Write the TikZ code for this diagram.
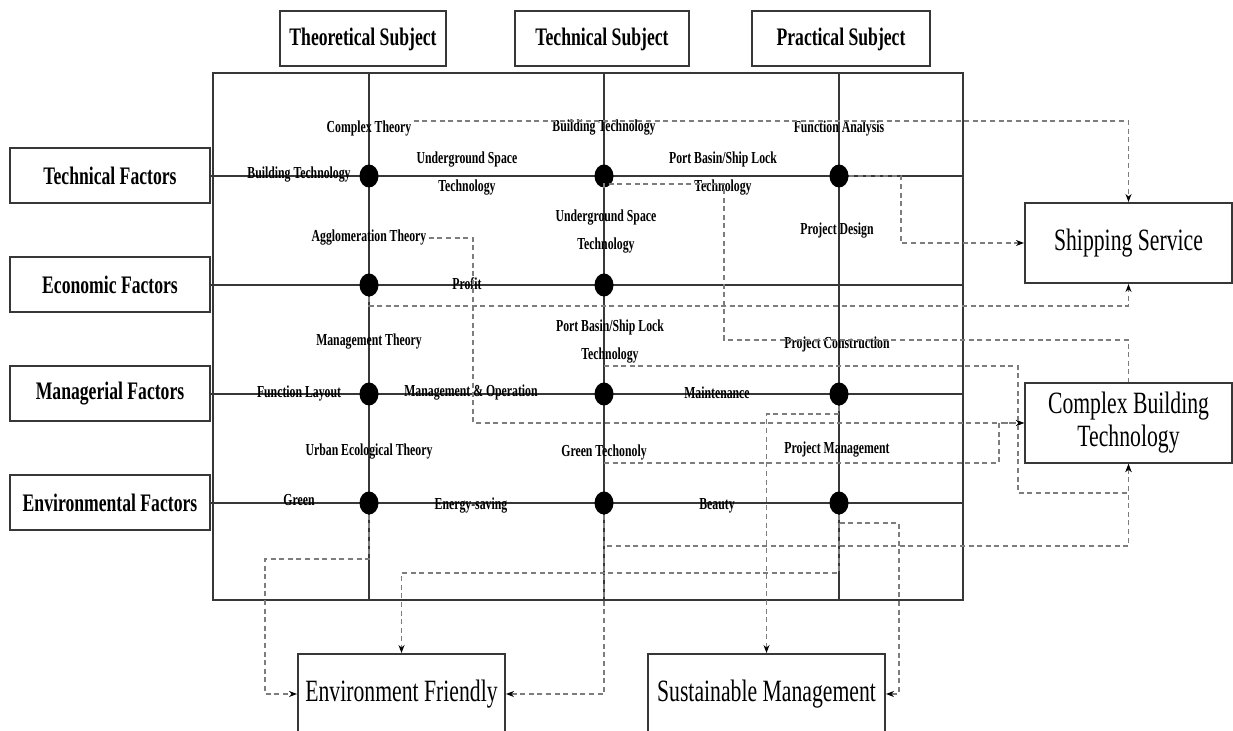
\documentclass[tikz,border=0pt]{standalone}
\usepackage{fontspec}
\setmainfont[FakeStretch=0.7]{Liberation Serif}
\usetikzlibrary{calc, arrows.meta, shapes}
\tikzset{>={Stealth[length=4pt,width=3pt,color=black]}}
\definecolor{mygray1}{RGB}{55, 55, 55}
\definecolor{mygray2}{RGB}{125, 125, 125}

\begin{document}
\begin{tikzpicture}[
    x = 0.5pt, y = -0.5pt,
    d0/.style = {line width = 1pt, mygray1},
    d1/.style = {line width = 0.7pt, mygray2, dash pattern = on 2.5pt off 1.8pt},
    d2/.style = {d1, ->},
    box/.style = {draw = mygray1, line width = 1pt, minimum height = 27.5pt, inner sep = 0pt, font = \bfseries\fontsize{12.6}{14}\selectfont},
    res/.style = {draw = mygray1, line width = 1pt, minimum height = 40pt, inner sep = 0pt, align = center, font = \fontsize{15.5}{16.5}\selectfont},
    lab/.style = {inner sep = 1pt, align = center, font = \bfseries\fontsize{8.4}{14}\selectfont},
    dot/.style = {ellipse, fill = black, minimum width = 9.5pt, minimum height = 11.5pt, inner sep = 0pt}
]
\useasboundingbox (0,0) rectangle (1233,731);
\clip (0,0) rectangle (1233,731);

% subjects and factors
\node[box, minimum width = 83pt] (thS) at (363,39) {Theoretical Subject};
\node[box, minimum width = 87pt] (tcS) at (602,39) {Technical Subject};
\node[box, minimum width = 89pt] (prS) at (841,39) {Practical Subject};

\node[box, minimum width = 100pt] (tecF) at (110,176) {Technical Factors};
\node[box, minimum width = 100pt] (ecoF) at (110,285) {Economic Factors};
\node[box, minimum width = 100pt] (manF) at (110,394) {Managerial Factors};
\node[box, minimum width = 100pt] (envF) at (110,503) {Environmental Factors};

% results
\node[res, minimum width = 103.5pt] (ship) at (1128.5,243) {Shipping Service};
\node[res, minimum width = 103.5pt] (cbt) at (1128.5,423) {Complex Building\\Technology};
\node[res, minimum width = 103.5pt] (env) at (401.5,694) {Environment Friendly};
\node[res, minimum width = 118.5pt] (sus) at (766.5,694) {Sustainable Management};

% grid
\coordinate (nw) at (213,73);
\coordinate (se) at (963,600);
\draw[d0] (nw) rectangle (se);
\foreach \x in {369,604,839}
    \draw[d0] (\x,73) -- (\x,600);
\foreach \f in {tecF,ecoF,manF,envF}
    \draw[d0] (\f.east) -- (\f.east -| se);

\node[dot] (d11) at (369,176) {};
\node[dot] (d12) at (604,176) {};
\node[dot] (d13) at (839,176) {};
\node[dot] (d21) at (369,285) {};
\node[dot] (d22) at (604,285) {};
\node[dot] (d31) at (369,394) {};
\node[dot] (d32) at (604,394) {};
\node[dot] (d33) at (839,394) {};
\node[dot] (d41) at (369,503) {};
\node[dot] (d42) at (604,503) {};
\node[dot] (d43) at (839,503) {};

% labels
\node[lab] (ct) at (369,128) {Complex Theory};
\node[lab] (bt1) at (604,128) {Building Technology};
\node[lab] (fa) at (839,128) {Function Analysis};
\node[lab] (bt0) at (299,175) {Building Technology};
\node[lab] (ust) at (467,174) {Underground Space\\Technology};
\node[lab] (pbt) at (723,174) {Port Basin/Ship Lock\\Technology};
\node[lab] (agt) at (369,238) {Agglomeration Theory};
\node[lab] (ust2) at (606,232) {Underground Space\\Technology};
\node[lab] (pd) at (837,231) {Project Design};
\node[lab] (pr) at (467,284) {Profit};
\node[lab] (mt) at (369,342) {Management Theory};
\node[lab] (pbt2) at (610,342) {Port Basin/Ship Lock\\Technology};
\node[lab] (pc) at (837,344) {Project Construction};
\node[lab] (fl) at (299,393) {Function Layout};
\node[lab] (mo) at (471,393) {Management \& Operation};
\node[lab] (mn) at (717,393) {Maintenance};
\node[lab] (uet) at (369,452) {Urban Ecological Theory};
\node[lab] (gt) at (604,452) {Green Techonoly};
\node[lab] (pm) at (837,450) {Project Management};
\node[lab] (gr) at (299,500) {Green};
\node[lab] (es) at (471,506) {Energy-saving};
\node[lab] (be) at (717,506) {Beauty};

% dashed links
\draw[d2] (ct.east |- 0,121) -| (ship.north);
\draw[d2] (d13.east) -- (901,176) |- (ship.west);
\draw[d2] (d21.south) |- (ship.south |- 0,306) -- (ship.south);
\draw[d2] (agt.east) -| (473,423) -- (cbt.west);
\draw[d2] (gt.south |- 0,463) -| (999,423) -- (cbt.west);
\draw[d1] (d12.south) |- (724,184) |- (cbt.north |- 0,340) -- (cbt.north);
\draw[d2] (pbt2.south -| d32) -| (1018,493) -| (cbt.south);
\draw[d2] (d42.south) |- (cbt.south |- 0,546) -- (cbt.south);
\draw[d2] (d42.south) |- (env.east);
\draw[d2] (d43.south) |- (899,523) |- (sus.east);
\draw[d2] (d43.south) |- (env.north |- 0,573) -- (env.north);
\draw[d2] (d33.south) |- (sus.north |- 0,414) -- (sus.north);
\draw[d2] (d41.south) |- (265,559) |- (env.west);

\end{tikzpicture}
\end{document}
